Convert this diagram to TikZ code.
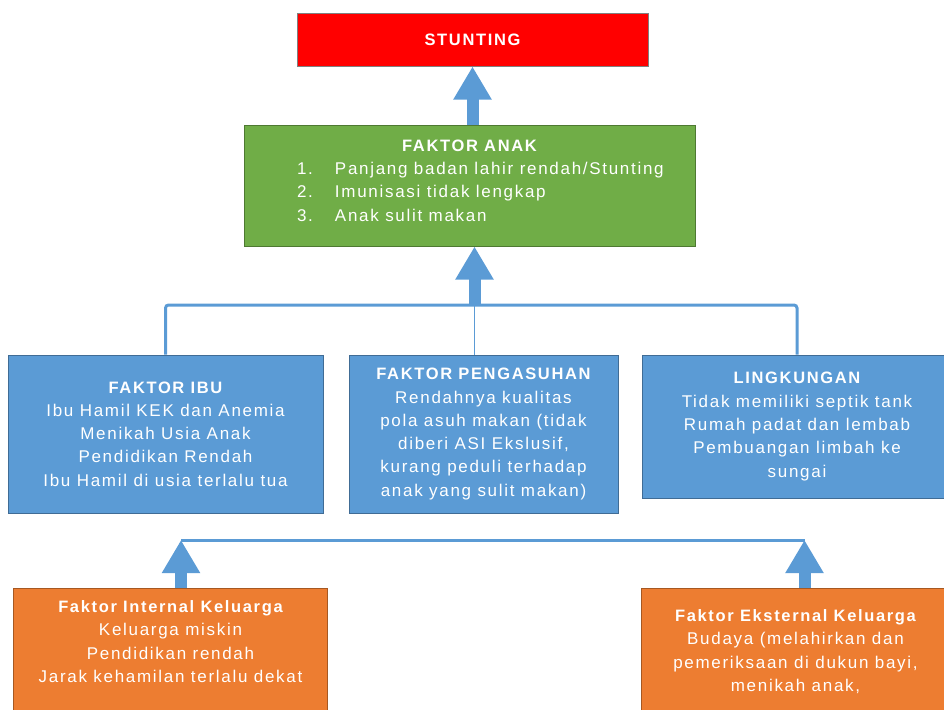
\documentclass[tikz,border=0pt]{standalone}
\usepackage{fontspec}
\setmainfont{Liberation Sans}[LetterSpace=10]
\usetikzlibrary{positioning,arrows.meta}

\definecolor{merah}{HTML}{FF0000}
\definecolor{hijau}{HTML}{70AD47}
\definecolor{biru}{HTML}{5B9BD5}
\definecolor{oranye}{HTML}{ED7D31}
\newcommand{\judul}[1]{{\fontsize{16.5}{23.3}\selectfont\bfseries #1}}

\begin{document}
\begin{tikzpicture}[x=1pt,y=-1pt,font=\fontsize{17}{23.3}\selectfont,
kotak/.style={draw=#1!70!black,fill=#1,text=white,align=center,inner sep=0pt,line width=1pt},
panah/.style={biru,line width=12pt,-{Triangle[width=36pt,length=33pt]}},
garis/.style={biru,line width=3pt,rounded corners=3pt}]
\useasboundingbox (0,0) rectangle (944,709);

\node[kotak=merah,draw=gray,minimum width=351pt,minimum height=52pt] (stunting) at (472.5,40) {\judul{STUNTING}};
\node[kotak=hijau,below=58pt of stunting,xshift=-3pt,minimum width=451pt,text height=96pt,text depth=25pt] (anak) {\judul{FAKTOR ANAK}\\
\hspace*{21pt}\makebox[366pt][l]{\makebox[38pt][l]{1.}Panjang badan lahir rendah/Stunting}\\
\hspace*{21pt}\makebox[366pt][l]{\makebox[38pt][l]{2.}Imunisasi tidak lengkap}\\
\hspace*{21pt}\makebox[366pt][l]{\makebox[38pt][l]{3.}Anak sulit makan}};

% faktor penyebab langsung
\node[kotak=biru,minimum width=315pt,minimum height=158pt] (ibu) at (165.5,434) {\judul{FAKTOR IBU}\\Ibu Hamil KEK dan Anemia\\Menikah Usia Anak\\Pendidikan Rendah\\Ibu Hamil di usia terlalu tua};
\node[kotak=biru,right=25pt of ibu,minimum width=269pt,minimum height=158pt] (asuh) {\judul{FAKTOR PENGASUHAN}\\Rendahnya kualitas\\pola asuh makan (tidak\\diberi ASI Ekslusif,\\kurang peduli terhadap\\anak yang sulit makan)};
\node[kotak=biru,right=23pt of asuh.north east,anchor=north west,minimum width=310pt,minimum height=143pt] (ling) {\judul{LINGKUNGAN}\\Tidak memiliki septik tank\\Rumah padat dan lembab\\Pembuangan limbah ke\\sungai};

% faktor keluarga
\node[kotak=oranye,anchor=north west,minimum width=314pt,text height=94pt,text depth=100pt] (internal) at (13,588) {\judul{Faktor Internal Keluarga}\\Keluarga miskin\\Pendidikan rendah\\Jarak kehamilan terlalu dekat};
\node[kotak=oranye,anchor=north west,minimum width=308pt,text height=103pt,text depth=100pt] (eksternal) at (641,588) {\judul{Faktor Eksternal Keluarga}\\Budaya (melahirkan dan\\pemeriksaan di dukun bayi,\\menikah anak,};

\coordinate (simpul) at (474.5,305);
\coordinate (kiri) at (181,540);
\coordinate (kanan) at (804.5,540);

\draw[panah] (anak.north -| stunting.south) -- (stunting.south);
\draw[garis] (ibu.north) |- (simpul) -| (ling.north);
\draw[biru,line width=1.5pt] (simpul) -- (simpul |- asuh.north);
\draw[panah] (simpul) -- (simpul |- anak.south);
\draw[garis] (kiri) -- (kanan);
\draw[panah] (kiri |- internal.north) -- (kiri);
\draw[panah] (kanan |- eksternal.north) -- (kanan);
\end{tikzpicture}
\end{document}
